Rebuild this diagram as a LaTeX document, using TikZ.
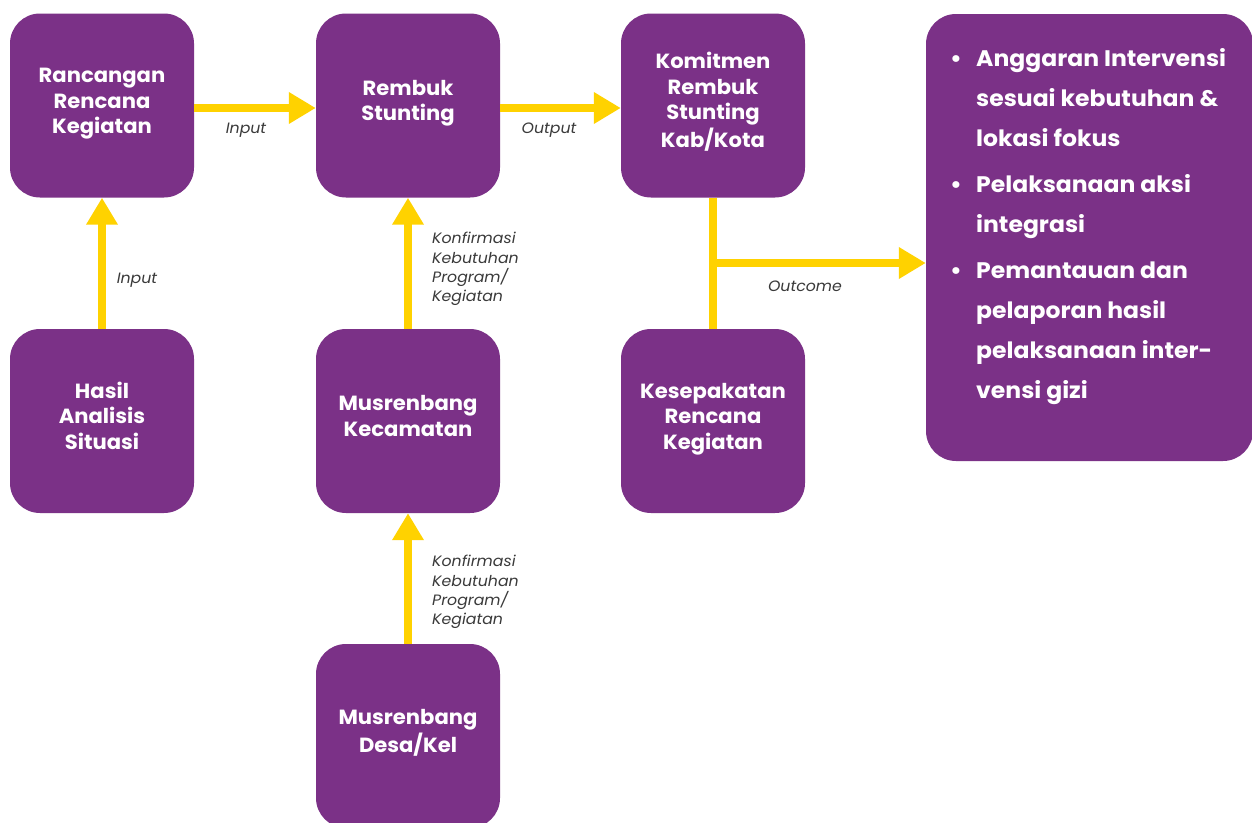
\documentclass[tikz,border=0pt]{standalone}
\usepackage{fontspec}
\setmainfont{Poppins}
\newfontfamily\stagefont[FakeStretch=1.03]{Poppins}
\newfontfamily\notefont[FakeStretch=1.045]{Poppins}
\newfontfamily\tagfont[FakeStretch=1.05]{Poppins}
\usetikzlibrary{arrows.meta}
\definecolor{plum}{HTML}{7B3187}
\definecolor{sun}{HTML}{FFD200}
\definecolor{ink}{HTML}{3A3A3A}
% fixed line boxes so every stage label sits the same way in its box
\newcommand{\rowstrut}{\vrule width 0pt height 18pt depth 7.5pt}
\newcommand{\laststrut}{\vrule width 0pt height 18pt depth 13pt}
\tikzset{
  stage/.style={fill=plum, rounded corners=30pt, minimum width=184pt, minimum height=184pt,
    inner sep=0pt, text=white, align=center, font=\stagefont\bfseries\fontsize{20.5}{25.5}\selectfont},
  flow/.style={draw=sun, line width=8pt, -{Triangle[width=30pt,length=27pt]}},
  link/.style={draw=sun, line width=8pt},
  tag/.style={text=ink, inner sep=0pt, font=\tagfont\itshape\fontsize{15}{19.4}\selectfont},
  notes/.style={text=white, inner sep=0pt, font=\notefont\bfseries\fontsize{22.5}{40}\selectfont}
}
\begin{document}
\begin{tikzpicture}[x=1pt, y=-1pt]
\useasboundingbox[fill=white] (0,0) rectangle (1252,822);

% planning stages
\node[stage] (b1) at (102,105.5) {\rowstrut Rancangan\\\rowstrut Rencana\\\laststrut Kegiatan};
\node[stage] (b2) at (408,105.5) {\rowstrut Rembuk\\\laststrut Stunting};
\node[stage] (b3) at (713,105.5) {\rowstrut Komitmen\\\rowstrut Rembuk\\\rowstrut Stunting\\\laststrut Kab/Kota};
\node[stage] (b4) at (102,421) {\rowstrut Hasil\\\rowstrut Analisis\\\laststrut Situasi};
\node[stage] (b5) at (408,421) {\rowstrut Musrenbang\\\laststrut Kecamatan};
\node[stage] (b7) at (713,421) {\rowstrut Kesepakatan\\\rowstrut Rencana\\\laststrut Kegiatan};
\node[stage] (b6) at (408,736) {\rowstrut Musrenbang\\\laststrut Desa/Kel};

% outcome panel
\node[fill=plum, rounded corners=30pt, minimum width=327pt, minimum height=447pt, inner sep=0pt]
  (rb) at (1089.5,237.5) {};
\node[notes, anchor=base west] (aims) at (950,66.5) {%
  \begin{tabular}[t]{@{}p{26pt}@{}l@{}}
  • & Anggaran Intervensi\\
    & sesuai kebutuhan \&\\
    & lokasi fokus\\[6pt]
  • & Pelaksanaan aksi\\
    & integrasi\\[6pt]
  • & Pemantauan dan\\
    & pelaporan hasil\\
    & pelaksanaan inter-\\
    & vensi gizi
  \end{tabular}};

% connectors
\draw[flow] ([yshift=-2.5pt]b1.east) -- ([yshift=-2.5pt]b2.west);
\draw[flow] ([yshift=-2.5pt]b2.east) -- ([yshift=-2.5pt]b3.west);
\draw[flow] (b4.north) -- (b1.south);
\draw[flow] (b5.north) -- (b2.south);
\draw[flow] (b6.north) -- (b5.south);
\draw[link] (b3.south) -- (b7.north);
\coordinate (j) at (709,263);
\draw[flow] (j) -- (j -| rb.west);

% connector labels
\node[tag] (t1) at (246,130) {Input};
\node[tag] (t2) at (549,130) {Output};
\node[tag] (t3) at (137,280) {Input};
\node[tag] (t5) at (805,286) {Outcome};
\node[tag, anchor=north west, align=left] (t4) at (432,232) {Konfirmasi\\Kebutuhan\\Program/\\Kegiatan};
\node[tag, anchor=north west, align=left] (t6) at (432,555) {Konfirmasi\\Kebutuhan\\Program/\\Kegiatan};
\end{tikzpicture}
\end{document}
